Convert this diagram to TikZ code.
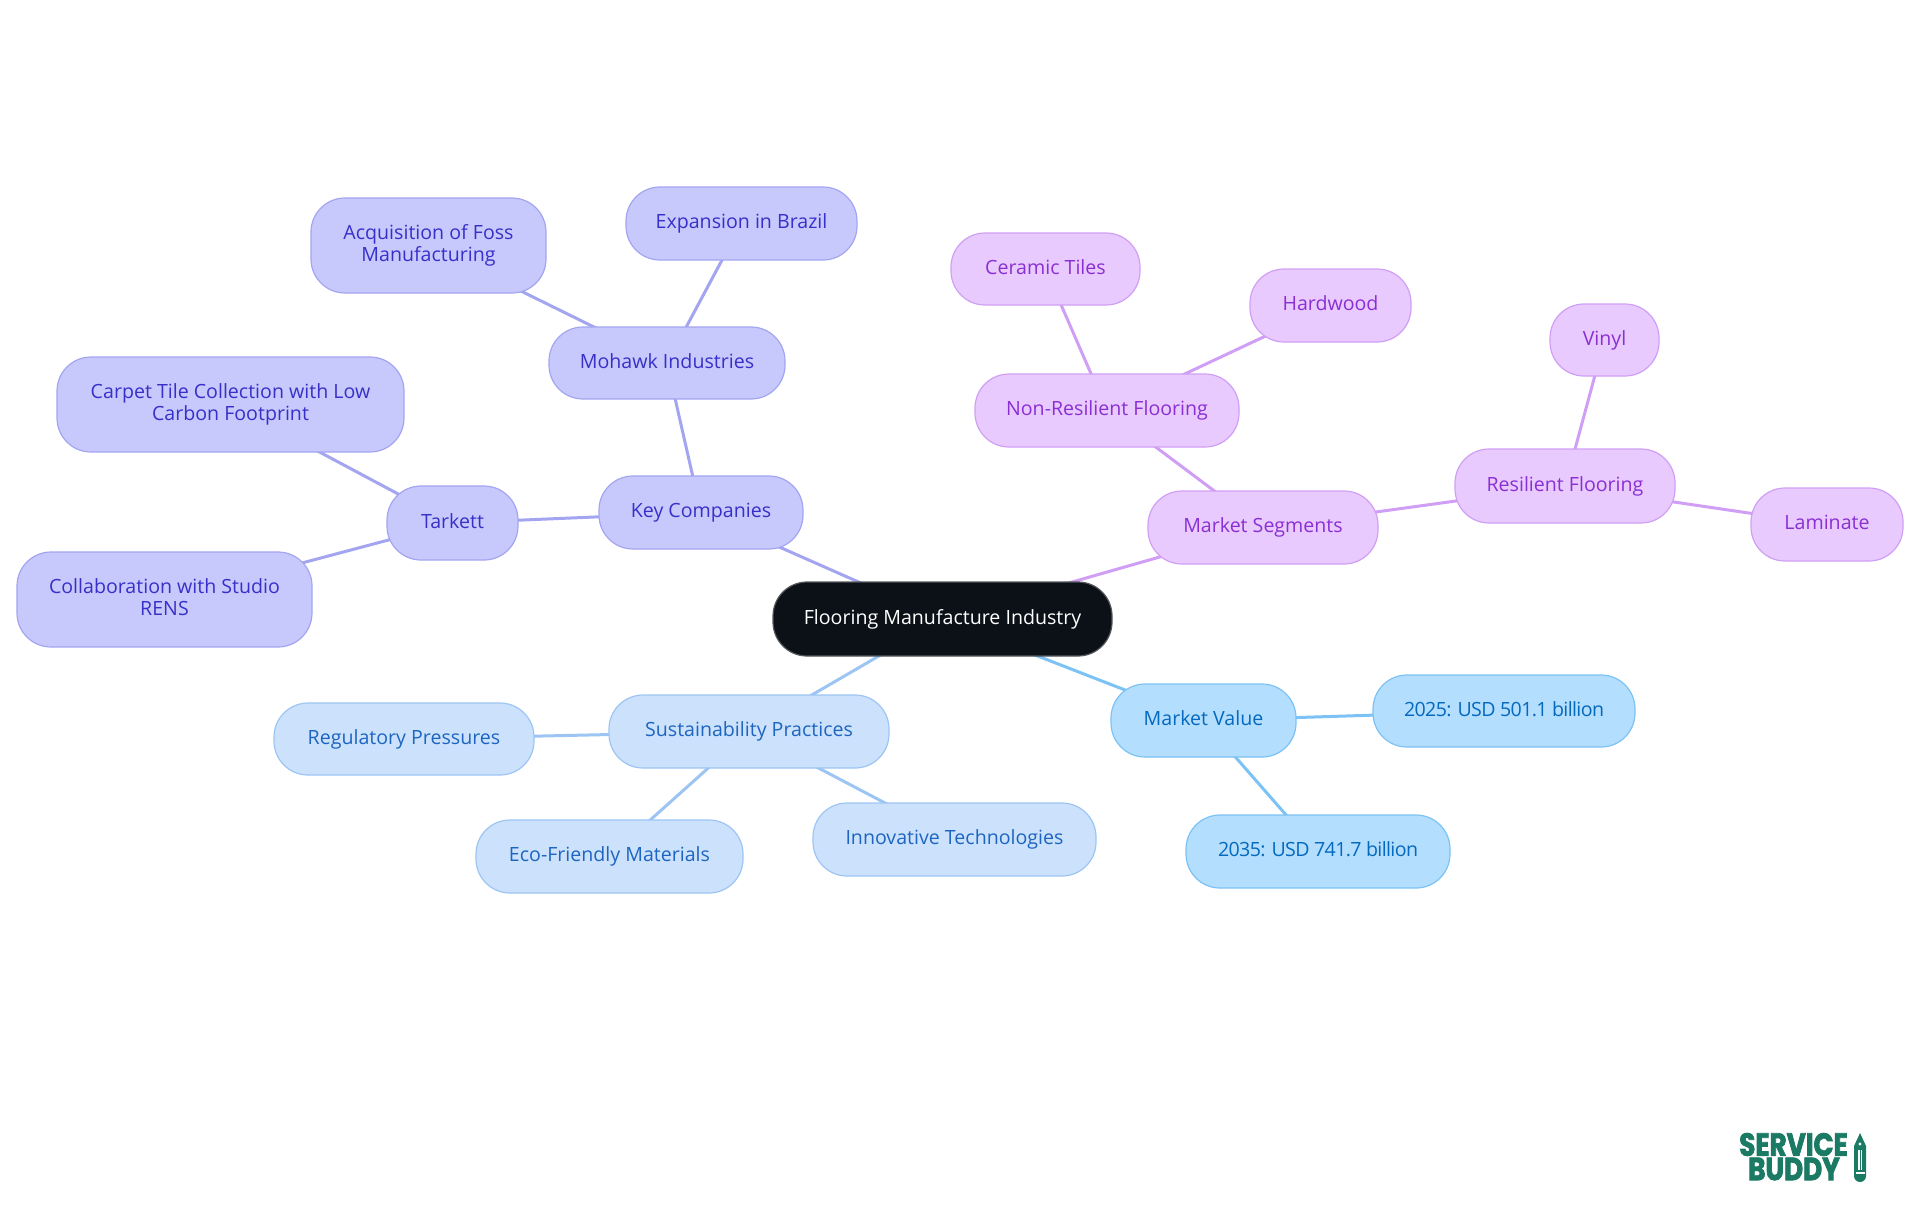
\documentclass[tikz,border=0pt]{standalone}
\usepackage{fontspec}
\setmainfont{Open Sans}
\newfontfamily\logofont[BoldFeatures={FakeStretch=0.82,FakeBold=2.4}]{Poppins}
\usetikzlibrary{backgrounds}

\definecolor{rootfill}{RGB}{12,17,24}
\definecolor{keyfill}{RGB}{199,201,253}
\definecolor{keyline}{RGB}{163,165,240}
\definecolor{keytext}{RGB}{55,48,200}
\definecolor{segfill}{RGB}{232,202,254}
\definecolor{segline}{RGB}{208,159,245}
\definecolor{segtext}{RGB}{138,47,210}
\definecolor{valfill}{RGB}{179,222,254}
\definecolor{valline}{RGB}{124,194,244}
\definecolor{valtext}{RGB}{5,105,190}
\definecolor{susfill}{RGB}{204,226,252}
\definecolor{susline}{RGB}{157,197,244}
\definecolor{sustext}{RGB}{29,101,192}
\definecolor{logogreen}{RGB}{27,122,100}

% Same height and depth for every line of text
\def\boxstrut{\rule[-2.4pt]{0pt}{9.8pt}}

\tikzset{
  boxnode/.style={rounded corners=17pt, line width=0.6pt, align=center, inner sep=0pt,
    font=\fontsize{9.8}{11}\selectfont},
  rootnode/.style={boxnode, draw=rootfill!70!white, fill=rootfill, text=white},
  keynode/.style={boxnode, draw=keyline, fill=keyfill, text=keytext},
  segnode/.style={boxnode, draw=segline, fill=segfill, text=segtext},
  valnode/.style={boxnode, draw=valline, fill=valfill, text=valtext},
  yearnode/.style={valnode, font=\fontsize{9.8}{11}\selectfont\addfontfeatures{LetterSpace=-3.2}},
  susnode/.style={boxnode, draw=susline, fill=susfill, text=sustext},
  linkline/.style={line width=1.5pt},
  logotext/.style={text=logogreen, inner sep=0pt, font=\logofont\bfseries\fontsize{16}{16}\selectfont}
}

\begin{document}
\begin{tikzpicture}[x=0.5pt, y=-0.5pt]
  \useasboundingbox (0,0) rectangle (1920,1215);

  % Centre of the map
  \node[rootnode, minimum width=169.5pt, minimum height=37pt] (root) at (942.5,619) {\boxstrut Flooring Manufacture Industry\boxstrut};

  % Key companies branch: name/x/y/width/height/text
  \foreach \nm/\cx/\cy/\w/\h/\boxtext in {
      key/701/512.5/204/73/Key Companies,
      mohawk/667/363/236/72/Mohawk Industries,
      brazil/741.5/223.5/231/73/Expansion in Brazil,
      foss/428.5/245.5/235/95/Acquisition of Foss\\Manufacturing,
      tarkett/452.5/523/131/74/Tarkett,
      carpet/230.5/404.5/347/95/Carpet Tile Collection with Low\\Carbon Footprint,
      studio/164.5/599.5/295/95/Collaboration with Studio\\RENS} {
    \node[keynode, minimum width=\w*0.5pt, minimum height=\h*0.5pt] (\nm) at (\cx,\cy) {\boxstrut\boxtext\boxstrut};
  }

  % Market segments branch
  \foreach \nm/\cx/\cy/\w/\h/\boxtext in {
      segments/1263/527.5/230/73/Market Segments,
      nonres/1107/410.5/264/73/Non-Resilient Flooring,
      ceramic/1045.5/269/189/72/Ceramic Tiles,
      hardwood/1330.5/305.5/161/73/Hardwood,
      resilient/1565/486/220/74/Resilient Flooring,
      vinyl/1604.5/340/109/72/Vinyl,
      laminate/1827/524.5/152/73/Laminate} {
    \node[segnode, minimum width=\w*0.5pt, minimum height=\h*0.5pt] (\nm) at (\cx,\cy) {\boxstrut\boxtext\boxstrut};
  }

  % Market value branch
  \node[valnode, minimum width=92.5pt, minimum height=36.5pt] (value) at (1203.5,720.5) {\boxstrut Market Value\boxstrut};
  \foreach \nm/\cx/\cy/\w/\h/\boxtext in {
      year25/1504/711/262/72/2025: USD 501.1 billion,
      year35/1318/851.5/264/73/2035: USD 741.7 billion} {
    \node[yearnode, minimum width=\w*0.5pt, minimum height=\h*0.5pt] (\nm) at (\cx,\cy) {\boxstrut\boxtext\boxstrut};
  }

  % Sustainability branch
  \foreach \nm/\cx/\cy/\w/\h/\boxtext in {
      sustain/749/731.5/280/73/Sustainability Practices,
      pressure/404/739/260/72/Regulatory Pressures,
      materials/609.5/856.5/267/73/Eco-Friendly Materials,
      techno/954.5/839.5/283/73/Innovative Technologies} {
    \node[susnode, minimum width=\w*0.5pt, minimum height=\h*0.5pt] (\nm) at (\cx,\cy) {\boxstrut\boxtext\boxstrut};
  }

  % Links run under the boxes
  \begin{pgfonlayer}{background}
    \foreach \a/\b in {root/key, key/mohawk, mohawk/brazil, mohawk/foss, key/tarkett, tarkett/carpet, tarkett/studio} {
      \draw[linkline, keyline] (\a.center) -- (\b.center);
    }
    \foreach \a/\b in {root/segments, segments/nonres, nonres/ceramic, nonres/hardwood, segments/resilient, resilient/vinyl, resilient/laminate} {
      \draw[linkline, segline] (\a.center) -- (\b.center);
    }
    \foreach \a/\b in {root/value, value/year25, value/year35} {
      \draw[linkline, valline] (\a.center) -- (\b.center);
    }
    \foreach \a/\b in {root/sustain, sustain/pressure, sustain/materials, sustain/techno} {
      \draw[linkline, susline] (\a.center) -- (\b.center);
    }
  \end{pgfonlayer}

  % Logo
  \node[logotext] (logotop) at (1793.5,1144.5) {SERVICE};
  \node[logotext] (logolow) at (1794,1169) {BUDDY};
  \fill[logogreen] (1860,1133) -- (1866,1146) -- (1866,1176) arc[start angle=0, end angle=180, radius=6] -- (1854,1146) -- cycle;
  \fill[white] (1858,1150) rectangle (1859.5,1170);
  \fill[white] (1860.8,1150) rectangle (1862.3,1170);
  \fill[white] (1855.5,1172) rectangle (1864.5,1174);
  \fill[white] (1860,1144) circle[radius=1.6];
\end{tikzpicture}
\end{document}
